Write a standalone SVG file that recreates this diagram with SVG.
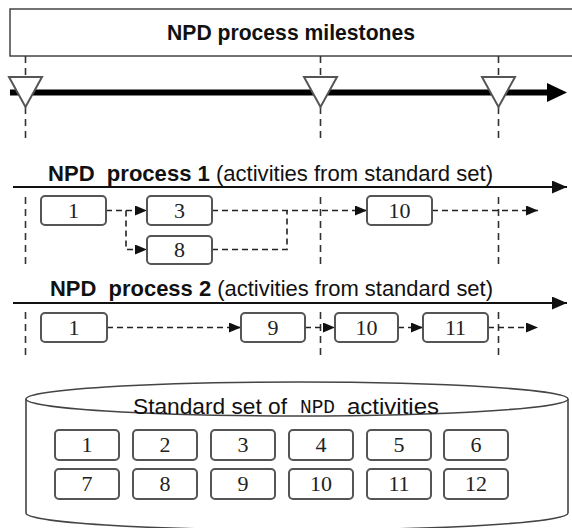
<svg xmlns="http://www.w3.org/2000/svg" width="572" height="528" viewBox="0 0 572 528">
<style>
.box{fill:#fff;stroke:#555;stroke-width:2}
.num{font-family:"Liberation Serif",serif;font-size:22px;fill:#222;text-anchor:middle}
.ms{stroke:#333;stroke-width:1.6;stroke-dasharray:7,5;fill:none}
.con{stroke:#222;stroke-width:1.6;stroke-dasharray:6,4;fill:none}
.lbl{font-family:"Liberation Sans",Arial,sans-serif;font-size:22px;fill:#111}
.tri{fill:#fff;stroke:#555;stroke-width:2}
</style>
<defs>
<marker id="ah" markerWidth="12" markerHeight="10" refX="12" refY="5" orient="auto" markerUnits="userSpaceOnUse"><path d="M0,0 L12,5 L0,10 z" fill="#111"/></marker>
<marker id="bh" markerWidth="15" markerHeight="13" refX="15" refY="6.5" orient="auto" markerUnits="userSpaceOnUse"><path d="M0,0 L15,6.5 L0,13 z" fill="#111"/></marker>
</defs>

<g id="milestones">
<rect x="10" y="9" width="572" height="47" fill="#fff" stroke="#444" stroke-width="1.5"/>
<text x="291" y="40" class="lbl" font-weight="bold" text-anchor="middle" textLength="248" lengthAdjust="spacingAndGlyphs">NPD process milestones</text>
</g>

<g id="milestone-lines">
<path class="ms" d="M25.5,56 V77 M25.5,107 V140 M25.5,197 V266 M25.5,312 V356"/>
<path class="ms" d="M320.5,56 V77 M320.5,107 V140 M320.5,197 V266 M320.5,312 V356"/>
<path class="ms" d="M498.5,56 V77 M498.5,107 V140 M498.5,197 V266 M498.5,312 V356"/>
</g>

<g id="timeline">
<line x1="10" y1="92.5" x2="550" y2="92.5" stroke="#000" stroke-width="6"/>
<polygon points="547,83 567,92.5 547,102" fill="#000"/>
<polygon class="tri" points="9,77 42,77 25.5,107"/>
<polygon class="tri" points="304,77 337,77 320.5,107"/>
<polygon class="tri" points="482,77 515,77 498.5,107"/>
</g>

<g id="process1-label">
<text x="48" y="181" class="lbl" textLength="445" lengthAdjust="spacingAndGlyphs"><tspan font-weight="bold">NPD&#160; process 1</tspan> (activities from standard set)</text>
<line x1="13" y1="187" x2="567" y2="187" stroke="#111" stroke-width="2" marker-end="url(#bh)"/>
</g>

<g id="process2-label">
<text x="50" y="296" class="lbl" textLength="443" lengthAdjust="spacingAndGlyphs"><tspan font-weight="bold">NPD&#160; process 2</tspan> (activities from standard set)</text>
<line x1="13" y1="303" x2="567" y2="303" stroke="#111" stroke-width="2" marker-end="url(#bh)"/>
</g>

<g id="connectors">
<path class="con" d="M106,210.5 H147" marker-end="url(#ah)"/>
<path class="con" d="M126,210.5 V249.5 H147" marker-end="url(#ah)"/>
<path class="con" d="M212,210.5 H367" marker-end="url(#ah)"/>
<path class="con" d="M212,249.5 H287 V210.5"/>
<path class="con" d="M432,210.5 H538" marker-end="url(#ah)"/>
<path class="con" d="M107,327.5 H241" marker-end="url(#ah)"/>
<path class="con" d="M305,327.5 H335" marker-end="url(#ah)"/>
<path class="con" d="M398,327.5 H423" marker-end="url(#ah)"/>
<path class="con" d="M488,327.5 H538" marker-end="url(#ah)"/>
</g>

<g id="p1-a1"><rect class="box" x="41" y="196" width="65" height="29" rx="4"/><text class="num" x="73.5" y="218">1</text></g>
<g id="p1-a3"><rect class="box" x="147" y="196" width="65" height="29" rx="4"/><text class="num" x="179.5" y="218">3</text></g>
<g id="p1-a8"><rect class="box" x="147" y="236" width="65" height="28" rx="4"/><text class="num" x="179.5" y="257">8</text></g>
<g id="p1-a10"><rect class="box" x="367" y="196" width="65" height="29" rx="4"/><text class="num" x="399.5" y="218">10</text></g>

<g id="p2-a1"><rect class="box" x="41" y="313" width="66" height="29" rx="4"/><text class="num" x="74" y="335">1</text></g>
<g id="p2-a9"><rect class="box" x="241" y="313" width="64" height="29" rx="4"/><text class="num" x="273" y="335">9</text></g>
<g id="p2-a10"><rect class="box" x="335" y="313" width="63" height="29" rx="4"/><text class="num" x="366.5" y="335">10</text></g>
<g id="p2-a11"><rect class="box" x="423" y="313" width="65" height="29" rx="4"/><text class="num" x="455.5" y="335">11</text></g>

<g id="standard-set">
<path d="M26,399 V513 A271,17 0 0 0 568,513 V399" fill="#fff" stroke="#444" stroke-width="1.6"/>
<ellipse cx="297" cy="399" rx="271" ry="17" fill="#fff" stroke="#444" stroke-width="1.6"/>
<text x="133" y="414" class="lbl" textLength="154" lengthAdjust="spacingAndGlyphs">Standard set of</text>
<text x="300" y="413" font-family="'Liberation Mono',monospace" font-size="20" fill="#111" textLength="35" lengthAdjust="spacingAndGlyphs">NPD</text>
<text x="347" y="414" class="lbl" textLength="92" lengthAdjust="spacingAndGlyphs">activities</text>
</g>

<g id="s1"><rect class="box" x="55" y="430" width="64" height="30" rx="4"/><text class="num" x="87" y="452">1</text></g>
<g id="s2"><rect class="box" x="133" y="430" width="64" height="30" rx="4"/><text class="num" x="165" y="452">2</text></g>
<g id="s3"><rect class="box" x="211" y="430" width="64" height="30" rx="4"/><text class="num" x="243" y="452">3</text></g>
<g id="s4"><rect class="box" x="289" y="430" width="64" height="30" rx="4"/><text class="num" x="321" y="452">4</text></g>
<g id="s5"><rect class="box" x="367" y="430" width="64" height="30" rx="4"/><text class="num" x="399" y="452">5</text></g>
<g id="s6"><rect class="box" x="444" y="430" width="64" height="30" rx="4"/><text class="num" x="476" y="452">6</text></g>
<g id="s7"><rect class="box" x="55" y="469" width="64" height="30" rx="4"/><text class="num" x="87" y="491">7</text></g>
<g id="s8"><rect class="box" x="133" y="469" width="64" height="30" rx="4"/><text class="num" x="165" y="491">8</text></g>
<g id="s9"><rect class="box" x="211" y="469" width="64" height="30" rx="4"/><text class="num" x="243" y="491">9</text></g>
<g id="s10"><rect class="box" x="289" y="469" width="64" height="30" rx="4"/><text class="num" x="321" y="491">10</text></g>
<g id="s11"><rect class="box" x="367" y="469" width="64" height="30" rx="4"/><text class="num" x="399" y="491">11</text></g>
<g id="s12"><rect class="box" x="444" y="469" width="64" height="30" rx="4"/><text class="num" x="476" y="491">12</text></g>
</svg>
